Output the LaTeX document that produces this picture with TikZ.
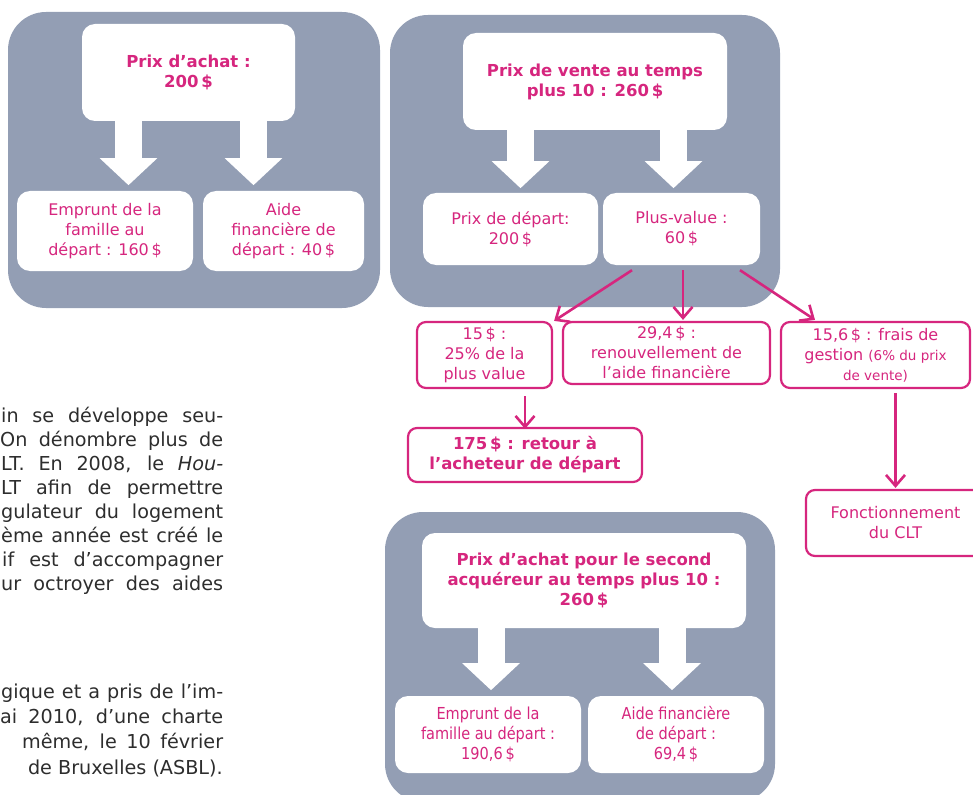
\documentclass[tikz,border=0pt]{standalone}
\usepackage{fontspec}
\setmainfont{DejaVu Sans}
\newfontfamily\condfont[FakeStretch=0.88]{DejaVu Sans}
\usetikzlibrary{arrows.meta,calc}
\definecolor{panelgray}{RGB}{147,158,180}
\definecolor{pinkc}{RGB}{214,38,126}
\definecolor{bodytext}{RGB}{45,45,45}
\begin{document}
\begin{tikzpicture}[x=1pt,y=-1pt,
  panel/.style={fill=panelgray, rounded corners=38pt, inner sep=0pt},
  wbox/.style={fill=white, rounded corners=13pt, inner sep=2pt, align=center, text=pinkc, font=\fontsize{16}{20}\selectfont},
  wtitle/.style={wbox, font=\bfseries\fontsize{16.5}{20}\selectfont},
  condbox/.style={wbox, font=\condfont\fontsize{16.5}{20}\selectfont},
  pbox/.style={draw=pinkc, line width=2.2pt, fill=white, rounded corners=9pt, align=center, text=pinkc, inner sep=1pt, font=\fontsize{16}{20}\selectfont},
  bigarrow/.style={draw=white, line width=27pt, -{Triangle[length=27pt,width=56pt]}},
  parr/.style={draw=pinkc, line width=2.6pt, -{Straight Barb[length=11pt,width=19pt]}},
  para/.style={anchor=base west, inner sep=0pt, text=bodytext, font=\fontsize{19.2}{22}\selectfont},
  parar/.style={para, anchor=base east},
]
\useasboundingbox (0,0) rectangle (973,794);
\clip (0,0) rectangle (973,794);

% panels
\node[panel, minimum width=372pt, minimum height=296pt] (P1) at (194,160) {};
\node[panel, minimum width=390pt, minimum height=292pt] (P2) at (585,161) {};
\node[panel, minimum width=390pt, minimum height=290pt] (P3) at (580,657) {};

% panel 1
\node[wtitle, minimum width=213pt, minimum height=97pt] (T1) at (188.5,72.5) {Prix d’achat :\\200\,\$};
\node[wbox, minimum width=176pt, minimum height=80pt] (L1) at (105,231) {Emprunt de la\\famille au\\départ : 160\,\$};
\node[wbox, minimum width=161pt, minimum height=80pt] (R1) at (283.5,231) {Aide\\financière de\\départ : 40\,\$};
\draw[bigarrow] ($(T1.south)+(-60,-3)$) -- ($(T1.south)+(-60,64)$);
\draw[bigarrow] ($(T1.south)+(65,-3)$) -- ($(T1.south)+(65,64)$);

% panel 2
\node[wtitle, minimum width=264pt, minimum height=97pt] (T2) at (595,81.5) {Prix de vente au temps\\plus 10 : 260\,\$};
\node[wbox, minimum width=175pt, minimum height=72pt] (L2) at (510.5,229) {Prix de départ:\\200\,\$};
\node[wbox, minimum width=157pt, minimum height=72pt] (PV) at (681.5,229) {Plus-value :\\60\,\$};
\draw[bigarrow] ($(T2.south)+(-74.5,-3)$) -- ($(T2.south)+(-74.5,58)$);
\draw[bigarrow] ($(T2.south)+(78.5,-3)$) -- ($(T2.south)+(78.5,58)$);

% panel 3
\node[wtitle, minimum width=324pt, minimum height=95pt] (T3) at (584,580.5) {Prix d’achat pour le second\\acquéreur au temps plus 10 :\\260\,\$};
\node[condbox, minimum width=186pt, minimum height=77pt] (L3) at (488,734.5) {Emprunt de la\\famille au départ :\\190,6\,\$};
\node[condbox, minimum width=176pt, minimum height=77pt] (R3) at (676,734.5) {Aide financière\\de départ :\\69,4\,\$};
\draw[bigarrow] ($(T3.south)+(-93,-3)$) -- ($(T3.south)+(-93,62)$);
\draw[bigarrow] ($(T3.south)+(88,-3)$) -- ($(T3.south)+(88,62)$);

% pink boxes
\node[pbox, minimum width=135pt, minimum height=66pt] (A) at (484.5,355) {15\,\$ :\\25\% de la\\plus value};
\node[pbox, minimum width=207pt, minimum height=62pt] (B) at (666.5,353) {29,4\,\$ :\\renouvellement de\\l’aide financière};
\node[pbox, minimum width=189pt, minimum height=66pt] (C) at (875.5,355) {15,6\,\$ : frais de\\gestion {\fontsize{13.5}{19}\selectfont (6\% du prix}\\{\fontsize{13.5}{19}\selectfont de vente)}};
\node[pbox, font=\bfseries\fontsize{16.5}{20}\selectfont, minimum width=234pt, minimum height=54pt] (D) at (525,455) {175\,\$ : retour à\\l’acheteur de départ};
\node[pbox, minimum width=179pt, minimum height=66pt] (F) at (895.5,523) {Fonctionnement\\du CLT};

% pink arrows
\draw[parr] ($(PV.south)+(-49.5,5)$) -- ($(A.north east)+(1,0)$);
\draw[parr] ($(PV.south)+(1.5,5)$) -- ($(B.north)+(16.5,-1)$);
\draw[parr] ($(PV.south)+(58.5,5)$) -- ($(C.north)+(-60.5,-1)$);
\draw[parr] ($(A.south -| D.north)+(0,7)$) -- ($(D.north)+(0,2)$);
\draw[parr] ($(C.south -| F.north)+(0,4)$) -- ($(F.north)+(0,-1)$);

% paragraph text (cut at left in the reference)
\node[para] (l1) at (1,422.5) {\makebox[222pt][s]{in se développe seu-}};
\node[para] (l2) at (0,446.5) {\makebox[223pt][s]{On dénombre plus de}};
\node[para] (l3) at (1,470.5) {\makebox[222pt][s]{LT. En 2008, le \textit{Hou-}}};
\node[para] (l4) at (1,494.5) {\makebox[222pt][s]{LT afin de permettre}};
\node[para] (l5) at (1,518.5) {\makebox[222pt][s]{gulateur du logement}};
\node[para] (l6) at (1,542.5) {\makebox[222pt][s]{ème année est créé le}};
\node[para] (l7) at (2,566.5) {\makebox[221pt][s]{if est d’accompagner}};
\node[para] (l8) at (1,590.5) {\makebox[222pt][s]{ur octroyer des aides}};
\node[para] (l9) at (1,698.5) {\makebox[222pt][s]{gique et a pris de l’im-}};
\node[para] (l10) at (0,723.5) {\makebox[223pt][s]{ai 2010, d’une charte}};
\node[para] (l11) at (22,748.5) {\makebox[201pt][s]{même, le 10 février}};
\node[parar] (l12) at (223,774) {de Bruxelles (ASBL).};
\end{tikzpicture}
\end{document}
